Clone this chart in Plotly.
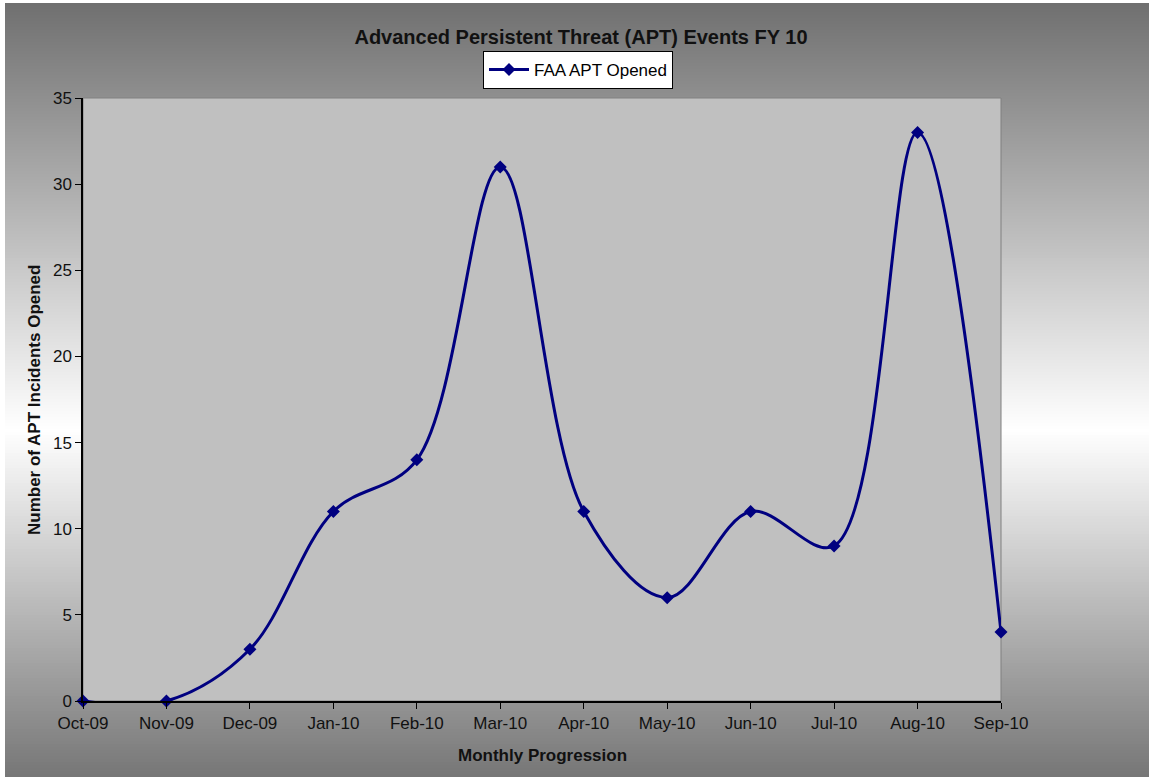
import plotly.graph_objects as go

months = ["Oct-09", "Nov-09", "Dec-09", "Jan-10", "Feb-10", "Mar-10",
          "Apr-10", "May-10", "Jun-10", "Jul-10", "Aug-10", "Sep-10"]
apt_opened = [0, 0, 3, 11, 14, 31, 11, 6, 11, 9, 33, 4]

W, H = 1149, 777
L, R, T, B = 83, 148, 98, 76
pw, ph = W - L - R, H - T - B


def px_x(px):
    return (px - L) / pw


def px_y(py):
    return (H - B - py) / ph


def grey_at(py, peak=430, lo_top=110, lo_bot=118):
    if py <= peak:
        v = lo_top + (255 - lo_top) * (py / peak)
    else:
        v = 255 - (255 - lo_bot) * ((py - peak) / (H - peak))
    v = int(round(v))
    return f"rgb({v},{v},{v})"


shapes = []
step = 3
for py in range(3, H, step):
    shapes.append(dict(type="rect", xref="paper", yref="paper", layer="below",
                       x0=px_x(5), x1=px_x(W + 2), y0=px_y(py), y1=px_y(py + step + 1),
                       fillcolor=grey_at(py + step / 2), line=dict(width=0)))
# plot area
shapes.append(dict(type="rect", xref="paper", yref="paper", layer="below",
                   x0=0, x1=1, y0=0, y1=1, fillcolor="#c0c0c0",
                   line=dict(color="#808080", width=1)))

fig = go.Figure()
fig.add_trace(go.Scatter(
    x=months, y=apt_opened, name="FAA APT Opened",
    mode="lines+markers",
    line=dict(color="#000080", width=3, shape="spline", smoothing=1),
    marker=dict(symbol="diamond", size=10, color="#000080"),
    cliponaxis=False,
))

font = "Arial, Liberation Sans, sans-serif"
fig.update_layout(
    width=W, height=H,
    margin=dict(l=L, r=R, t=T, b=B),
    paper_bgcolor="white",
    plot_bgcolor="rgba(0,0,0,0)",
    font=dict(family=font, size=17, color="#111111"),
    title=dict(text="<b>Advanced Persistent Threat (APT) Events FY 10</b>",
               x=581 / W, xanchor="center", y=1 - 37 / H, yanchor="middle",
               font=dict(size=20, color="#111111")),
    showlegend=True,
    legend=dict(x=px_x(578), y=px_y(70), xanchor="center", yanchor="middle",
                bgcolor="white", bordercolor="black", borderwidth=1,
                font=dict(size=17, color="black"), itemwidth=40,
                tracegroupgap=0),
    shapes=shapes,
    annotations=[
        dict(text="<b>Number of APT Incidents Opened</b>", textangle=-90,
             xref="paper", yref="paper", x=px_x(35), y=px_y(400),
             xanchor="center", yanchor="middle", showarrow=False,
             font=dict(size=17, color="#111111")),
        dict(text="<b>Monthly Progression</b>",
             xref="paper", yref="paper", x=px_x(542), y=px_y(755),
             xanchor="center", yanchor="middle", showarrow=False,
             font=dict(size=17, color="#111111")),
    ],
)
fig.update_xaxes(range=[0, 11], showgrid=False, zeroline=False,
                 showline=True, linecolor="black", linewidth=1.5,
                 ticks="outside", ticklen=6, tickcolor="black", tickwidth=1)
fig.update_yaxes(range=[0, 35], dtick=5, showgrid=False, zeroline=False,
                 showline=True, linecolor="black", linewidth=1.5,
                 ticks="outside", ticklen=6, tickcolor="black", tickwidth=1)

fig.write_html("out.html", config={"displayModeBar": False},
               post_script="document.body.style.margin='0';document.body.style.overflow='hidden';")
